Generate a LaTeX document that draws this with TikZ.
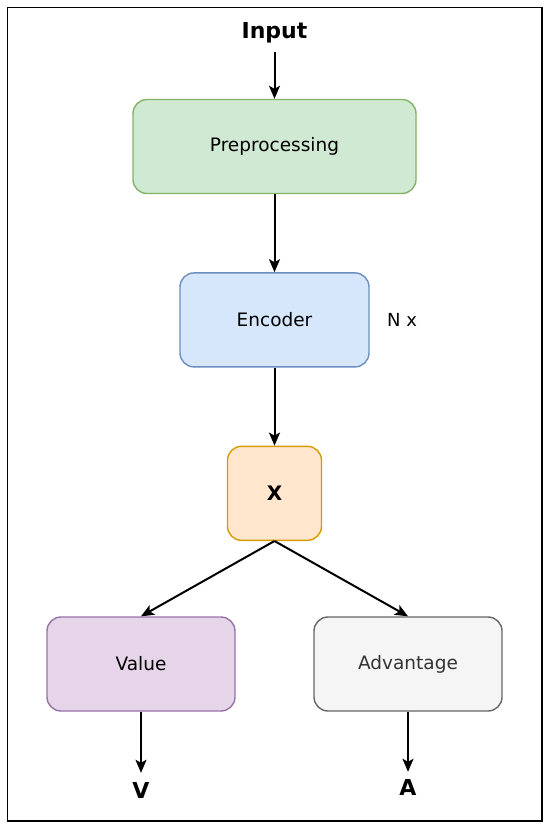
\documentclass[tikz,border=0pt]{standalone}
\usepackage{fontspec}
\setmainfont{DejaVu Sans}
\usetikzlibrary{arrows.meta,positioning}
\definecolor{grnfill}{HTML}{D0E9D3}\definecolor{grnline}{HTML}{82B366}
\definecolor{blufill}{HTML}{D6E7FB}\definecolor{bluline}{HTML}{6C8EBF}
\definecolor{orgfill}{HTML}{FFE6CC}\definecolor{orgline}{HTML}{D79B00}
\definecolor{prpfill}{HTML}{E6D5E8}\definecolor{prpline}{HTML}{9673A6}
\definecolor{gryfill}{HTML}{F5F5F5}\definecolor{gryline}{HTML}{666666}
\tikzset{
  blk/.style={draw, rounded corners=14pt, align=center, line width=1.4pt,
              font=\fontsize{18.5}{22}\selectfont, minimum height=94pt},
  sig/.style={-{Stealth[length=13pt,width=11pt,inset=3pt]}, line width=2pt},
  lbl/.style={font=\fontsize{22}{26}\selectfont\bfseries, inner sep=2pt},
}
\begin{document}
\begin{tikzpicture}[x=1pt,y=1pt,node distance=78pt]
    \useasboundingbox (0,0) rectangle (550,-827);
    \draw[line width=1.4pt] (7.5,-7.5) rectangle (542,-821);
    \node[lbl] (inp) at (274.5,-33) {Input};
    \node[blk,fill=grnfill,draw=grnline,minimum width=283pt] (prep) at (274.5,-146.5) {Preprocessing};
    \node[blk,fill=blufill,draw=bluline,minimum width=189pt,below=of prep] (enc) {Encoder};
    \node[font=\fontsize{18}{22}\selectfont,right=14pt of enc] (nx) {N x};
    \node[blk,fill=orgfill,draw=orgline,minimum width=94pt,below=of enc,
          font=\fontsize{20}{24}\selectfont\bfseries] (xx) {X};
    \node[blk,fill=prpfill,draw=prpline,minimum width=188pt] (val) at (141,-664) {Value};
    \node[blk,fill=gryfill,draw=gryline,minimum width=188pt,text=black!80] (adv) at (408,-664) {Advantage};
    \node[lbl] (vout) at (141,-790) {V};
    \node[lbl] (aout) at (408,-787) {A};
    \draw[sig,shorten <=6pt] (inp)--(prep); \draw[sig] (prep)--(enc);
    \draw[sig] (enc)--(xx);
    \draw[sig] (xx.south)--(val.north); \draw[sig] (xx.south)--(adv.north);
    \draw[sig,shorten >=7pt] (val)--(vout); \draw[sig,shorten >=5pt] (adv)--(aout);
  \end{tikzpicture}
\end{document}
